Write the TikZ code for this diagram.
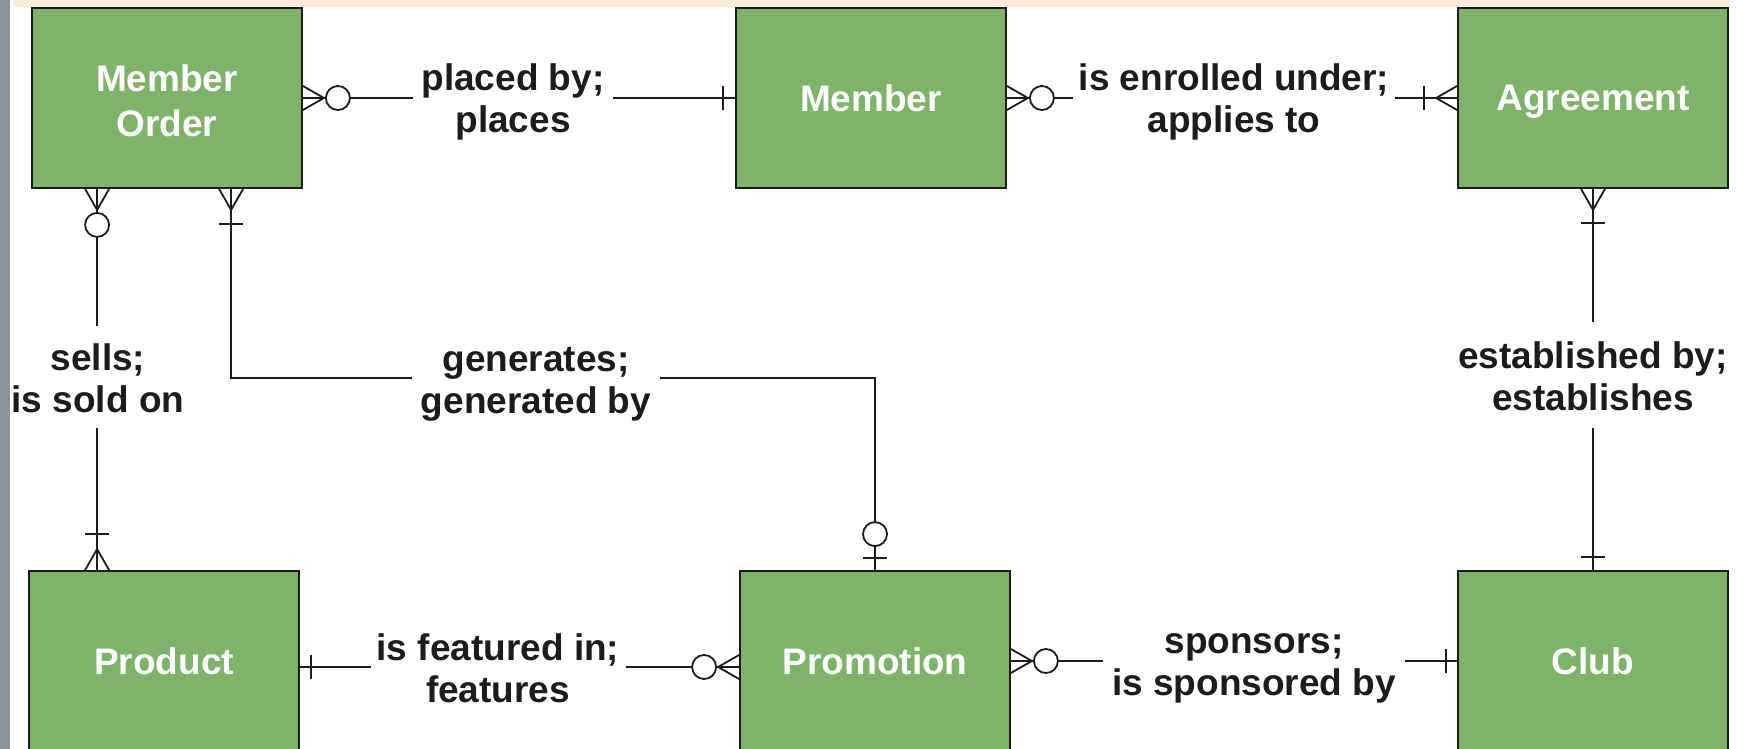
\documentclass[tikz,border=0pt]{standalone}
\usepackage{fontspec}
\setmainfont{Liberation Sans}
\usetikzlibrary{calc}
\definecolor{entgreen}{RGB}{128,179,106}
\definecolor{peach}{RGB}{251,236,222}
\definecolor{sidegray}{RGB}{138,148,153}
\definecolor{ink}{RGB}{28,28,28}
\newcommand\erfont{\bfseries\fontsize{37}{45}\selectfont}
\newcommand\relfont{\bfseries\fontsize{37}{42}\selectfont}
\newcommand\lowerby[2]{\raisebox{-#1}[\height][\depth]{#2}}
\newcommand\reltext[2]{\lowerby{6pt}{\strut #1}\\\lowerby{6pt}{\strut #2}}
\newcommand\crowmark[3]{\draw[conn] ($(#1)+(#3)$) -- ($(#1)+(#2)$) -- ($(#1)-(#3)$);}
\newcommand\zeromark[2]{\draw[conn,fill=white] ($(#1)+(#2)$) circle[radius=12pt];}
\newcommand\onemark[3]{\draw[conn] ($(#1)+(#2)+(#3)$) -- ($(#1)+(#2)-(#3)$);}
\begin{document}
\begin{tikzpicture}[x=1pt,y=-1pt,
  ent/.style={draw=ink, line width=1.8pt, fill=entgreen, minimum width=270pt,
    minimum height=180pt, text=white, font=\erfont, align=center, inner sep=0pt},
  rel/.style={font=\relfont, align=center, text=ink, inner xsep=6pt, inner ysep=0pt},
  conn/.style={draw=ink, line width=1.8pt}]
\useasboundingbox (0,0) rectangle (1745,749);
\clip (0,0) rectangle (1745,749);
\fill[white] (0,0) rectangle (1745,749);
\fill[sidegray] (0,0) rectangle (10,749);
\fill[peach] (13,0) rectangle (1730,7);

% entities
\node[ent] (mo) at (167,98) {\lowerby{3pt}{Member}\\\lowerby{3pt}{Order}};
\node[ent] (mem) at (871,98) {Member};
\node[ent, text depth=0pt] (agr) at (1593,98) {Agreement};
\node[ent] (prod) at (164,661) {Product};
\node[ent] (promo) at (875,661) {Promotion};
\node[ent] (club) at (1593,661) {Club};

% connection points
\coordinate (moA) at ($(mo.south west)+(66,0)$);
\coordinate (moB) at ($(mo.south west)+(200,0)$);
\coordinate (prA) at (prod.north -| moA);
\coordinate (pe) at ($(prod.east)+(0,6)$);
\coordinate (pw) at ($(promo.west)+(0,6)$);

% relationship labels
\node[rel, inner xsep=8pt] (l1) at (513,97) {\reltext{placed by;}{places}};
\node[rel] (l2) at (1234,97) {\reltext{is enrolled under;}{applies to}};
\node[rel, inner xsep=9pt] (l3) at (536,378) {\reltext{generates;}{generated by}};
\node[rel, inner ysep=9pt] (l4) at (98,377) {\reltext{sells;}{is sold on}};
\node[rel, inner ysep=11pt] (l5) at (1593,375) {\reltext{established by;}{establishes}};
\node[rel] (l6) at (498,667) {\reltext{is featured in;}{features}};
\node[rel, inner xsep=9pt] (l7) at (1254,660) {\reltext{sponsors;}{is sponsored by}};

% connectors
\draw[conn] (mo.east) -- (mo.east -| l1.west);
\draw[conn] (mem.west -| l1.east) -- (mem.west);
\draw[conn] (mem.east) -- (mem.east -| l2.west);
\draw[conn] (agr.west -| l2.east) -- (agr.west);
\draw[conn] (moA) -- (moA |- l4.north);
\draw[conn] (prA |- l4.south) -- (prA);
\draw[conn] (moB) |- (l3.west);
\draw[conn] (l3.east) -| (promo.north);
\draw[conn] (agr.south) -- (agr.south |- l5.north);
\draw[conn] (club.north |- l5.south) -- (club.north);
\draw[conn] (pe) -- (pe -| l6.west);
\draw[conn] (pw -| l6.east) -- (pw);
\draw[conn] (promo.east) -- (promo.east -| l7.west);
\draw[conn] (club.west -| l7.east) -- (club.west);

% crow's feet (many)
\crowmark{mo.east}{21,0}{0,12}
\crowmark{moA}{0,21}{12,0}
\crowmark{moB}{0,21}{12,0}
\crowmark{mem.east}{21,0}{0,12}
\crowmark{agr.west}{-21,0}{0,12}
\crowmark{agr.south}{0,21}{12,0}
\crowmark{prA}{0,-21}{12,0}
\crowmark{pw}{-21,0}{0,12}
\crowmark{promo.east}{21,0}{0,12}

% zero (optional) circles
\zeromark{mo.east}{35,0}
\zeromark{moA}{0,36}
\zeromark{mem.east}{35,0}
\zeromark{pw}{-35,0}
\zeromark{promo.east}{35,0}
\zeromark{promo.north}{0,-36}

% one bars
\onemark{mem.west}{-12,0}{0,12}
\onemark{agr.west}{-33,0}{0,12}
\onemark{moB}{0,35}{12,0}
\onemark{agr.south}{0,34}{12,0}
\onemark{prA}{0,-36}{12,0}
\onemark{promo.north}{0,-12}{12,0}
\onemark{club.north}{0,-13}{12,0}
\onemark{pe}{11,0}{0,12}
\onemark{club.west}{-11,0}{0,12}
\end{tikzpicture}
\end{document}
